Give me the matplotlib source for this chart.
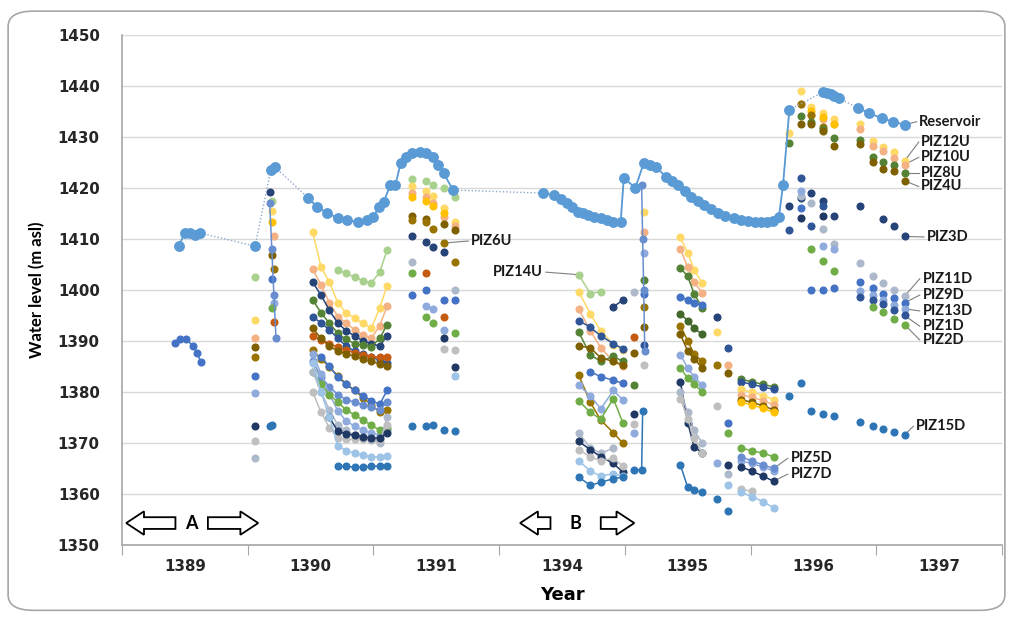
import numpy as np
import matplotlib.pyplot as plt
from matplotlib.patches import FancyArrow, FancyBboxPatch

plt.rcParams['font.family'] = ['Lato', 'DejaVu Sans']

# time axis: months counted from the left edge, 12 per year category
year_labels = ['1389', '1390', '1391', '1394', '1395', '1396', '1397']

# reservoir level
res_t = [5.4, 6.0, 6.5, 7.0, 7.4, 12.7, 14.2, 14.6,
         17.8, 18.6, 19.6, 20.6, 21.5, 22.5, 23.4, 24.0, 24.5, 25.0, 25.6, 26.1, 26.6, 27.1, 27.7,
         28.4, 29.0, 29.7, 30.2, 30.7, 31.6,
         40.2, 41.2, 41.9, 42.5, 43.0, 43.5, 44.0, 44.5, 45.1, 45.7, 46.3, 46.9, 47.6, 47.9,
         49.0, 49.8, 50.4, 51.0, 51.9, 52.5, 53.1, 53.7, 54.3, 55.0, 55.6, 56.2, 56.9, 57.6,
         58.4, 59.1, 59.8, 60.4, 61.0, 61.6, 62.1, 62.7, 63.1, 63.7,
         66.9, 67.3, 67.7, 68.0, 68.4, 70.3, 71.3, 72.5, 73.6, 74.7]
res_y = [1408.6, 1411.2, 1411.2, 1410.8, 1411.2, 1408.6, 1423.5, 1424.1,
         1418.0, 1416.3, 1415.1, 1414.1, 1413.7, 1413.3, 1413.7, 1414.3, 1416.3, 1417.3, 1420.6, 1420.6, 1424.9, 1426.1, 1426.9,
         1427.0, 1426.9, 1426.1, 1424.5, 1422.9, 1419.6,
         1419.0, 1418.6, 1417.8, 1417.1, 1416.2, 1415.3, 1415.0, 1414.7, 1414.4, 1414.1, 1413.7, 1413.3, 1413.3, 1422.0,
         1420.0, 1424.9, 1424.6, 1424.1, 1422.2, 1421.4, 1420.6, 1419.4, 1418.2, 1417.4, 1416.7, 1415.8, 1415.1, 1414.6,
         1414.1, 1413.8, 1413.5, 1413.4, 1413.3, 1413.4, 1413.5, 1414.3, 1420.6, 1435.3,
         1438.8, 1438.6, 1438.4, 1438.0, 1437.6, 1435.7, 1434.7, 1433.7, 1433.0, 1432.4]

# piezometer campaigns: times and readings (None = no reading)
t_89a = [5.1, 5.5, 6.1, 6.8, 7.2, 7.5]
y_89a = {'PIZ9D': [1389.6, 1390.4, 1390.4, 1389.0, 1387.6, 1385.9]}

t_89b = [12.7]
y_89b = {'PIZ14U': [1402.5], 'PIZ12U': [1394.2], 'PIZ10U': [1390.5], 'PIZ4U': [1388.9],
         'PIZ6U': [1386.9], 'PIZ9D': [1383.2], 'PIZ13D': [1379.9], 'PIZ7D': [1373.3],
         'PIZ4D': [1370.3], 'PIZ11D': [1367.0]}

t_89c = [14.1, 14.3, 14.5, 14.7]
y_89c = {'PIZ3D': [1419.3, None, None, None], 'PIZ14U': [None, 1417.5, None, None],
         'PIZ12U': [None, 1415.4, None, None], 'PIZ10D': [None, 1413.4, None, None],
         'PIZ10U': [None, None, 1410.5, None], 'PIZ4U': [None, 1406.8, None, None],
         'PIZ6U': [None, None, 1404.1, None], 'PIZ9D': [None, 1402.1, None, None],
         'PIZ13D': [None, None, 1397.5, None], 'PIZ2D': [None, 1396.5, None, None],
         'PIZ2U': [None, None, 1393.8, None], 'PIZ5D': [1417.0, 1408.0, 1399.0, 1390.5],
         'PIZ15D': [1373.3, 1373.6, None, None]}

t_90 = [18.2, 19.0, 19.8, 20.6, 21.4, 22.2, 23.0, 23.8, 24.6, 25.3]
y_90 = {
    'PIZ12U': [1411.4, 1404.5, 1401.5, 1397.5, 1395.5, 1394.5, 1393.5, 1392.5, 1396.5, 1400.8],
    'PIZ14U': [None, None, None, 1403.9, 1403.3, 1402.5, 1401.8, 1401.4, 1403.5, 1407.8],
    'PIZ10U': [1404.1, 1401.0, 1397.5, 1394.8, 1393.5, 1392.2, 1391.2, 1390.5, 1393.0, 1396.8],
    'PIZ3D': [1401.5, 1399.0, 1396.0, 1393.5, 1392.0, 1391.0, 1390.0, 1389.5, 1389.0, 1391.0],
    'PIZ8U': [1398.1, 1395.5, 1393.5, 1391.5, 1390.3, 1389.5, 1389.2, 1388.9, 1390.5, 1393.2],
    'PIZ1D': [1394.8, 1393.5, 1392.2, 1390.5, 1389.0, 1388.0, 1387.4, 1386.9, 1386.2, 1385.6],
    'PIZ2U': [1390.9, 1390.2, 1389.5, 1388.8, 1388.2, 1387.7, 1387.3, 1386.9, 1386.9, 1386.9],
    'PIZ4U': [1392.5, 1390.5, 1389.0, 1388.0, 1387.5, 1387.0, 1386.5, 1386.0, 1385.5, 1385.0],
    'PIZ6U': [1388.2, 1386.5, 1384.9, 1383.2, 1381.6, 1380.3, 1378.9, 1377.5, 1376.0, 1376.5],
    'PIZ9D': [None, 1386.9, 1385.0, 1382.9, 1381.5, 1380.3, 1379.3, 1378.3, 1377.6, 1380.3],
    'PIZ5D': [1386.0, 1383.0, 1381.0, 1379.5, 1378.5, 1378.0, 1377.5, 1377.0, 1376.5, 1378.0],
    'PIZ13D': [1387.5, 1383.6, 1379.6, 1376.3, 1374.3, 1373.3, 1372.5, 1372.0, 1371.5, 1372.5],
    'PIZ2D': [1384.0, 1381.5, 1379.5, 1378.0, 1376.5, 1375.5, 1374.5, 1373.5, 1372.5, 1373.0],
    'PIZ11D': [1384.0, 1380.0, 1376.5, 1373.5, 1372.5, 1371.5, 1371.0, 1370.5, 1370.0, 1375.0],
    'PIZ4D': [1380.0, 1376.0, 1373.0, 1371.0, 1370.7, 1370.7, 1370.7, 1370.7, 1370.5, 1373.5],
    'PIZ7D': [None, None, 1375.0, 1372.3, 1371.8, 1371.5, 1371.2, 1371.0, 1371.0, 1372.0],
    'PIZ6D': [1385.6, 1380.0, 1375.0, 1369.5, 1368.5, 1368.0, 1367.6, 1367.3, 1367.3, 1367.5],
    'PIZ15D': [None, None, None, 1365.4, 1365.4, 1365.3, 1365.3, 1365.4, 1365.5, 1365.5],
}

t_91 = [27.7, 29.0, 29.7, 30.7, 31.8]
y_91 = {
    'PIZ14U': [1421.7, 1421.3, 1420.5, 1420.0, 1418.3],
    'PIZ12U': [1420.3, 1419.5, 1418.5, 1416.0, 1413.4],
    'PIZ10U': [1419.0, 1418.3, 1417.0, 1414.4, 1412.5],
    'PIZ10D': [1418.3, 1417.5, 1416.5, 1415.0, None],
    'PIZ4U': [1414.5, 1414.0, None, 1413.0, 1411.7],
    'PIZ6U': [1413.7, 1413.4, 1412.0, 1409.2, 1405.4],
    'PIZ3D': [1410.5, 1409.5, 1408.5, 1407.5, None],
    'PIZ11D': [1405.4, None, None, None, 1400.0],
    'PIZ2U': [None, 1403.4, None, 1394.8, None],
    'PIZ2D': [1403.4, 1394.8, 1393.5, None, 1391.5],
    'PIZ9D': [1399.1, 1400.0, None, 1398.1, 1398.1],
    'PIZ13D': [None, 1396.8, 1396.2, 1392.2, None],
    'PIZ7D': [None, None, None, 1390.5, 1384.9],
    'PIZ4D': [None, None, None, 1388.5, 1388.2],
    'PIZ6D': [None, None, None, None, 1383.2],
    'PIZ15D': [1373.3, 1373.3, 1373.5, 1372.6, 1372.3],
}

t_94 = [43.6, 44.7, 45.7, 46.9, 47.8]
y_94 = {
    'PIZ14U': [1403.0, 1399.3, 1399.7, None, None],
    'PIZ12U': [1399.7, 1395.3, 1392.0, 1389.3, 1388.3],
    'PIZ10U': [1396.3, 1392.0, 1388.7, 1386.0, 1385.0],
    'PIZ1D': [1394.0, 1392.7, 1391.0, 1389.5, 1388.5],
    'PIZ8U': [1391.7, 1387.3, 1386.0, 1387.0, 1386.0],
    'PIZ4U': [1389.0, 1388.7, 1386.7, 1386.0, 1385.3],
    'PIZ9D': [None, 1384.0, 1383.0, 1382.3, 1381.7],
    'PIZ6U': [1383.3, 1378.0, 1374.5, 1372.0, 1370.0],
    'PIZ13D': [1381.3, 1379.3, 1376.7, 1380.3, 1378.5],
    'PIZ2D': [1378.3, 1376.0, 1374.7, 1378.7, 1374.0],
    'PIZ11D': [1372.0, 1369.0, 1368.0, 1369.0, None],
    'PIZ7D': [1370.3, 1368.7, 1367.3, 1366.0, 1364.3],
    'PIZ4D': [1368.7, 1367.3, 1366.5, 1367.0, 1365.5],
    'PIZ6D': [1366.5, 1364.5, 1363.5, 1364.0, 1363.5],
    'PIZ15D': [1363.3, 1361.7, 1362.3, 1363.0, 1363.3],
    'PIZ3D': [None, None, None, 1396.7, 1398.0],
}

t_94c = [48.9, 49.6, 49.7, 49.8, 49.9]
y_94c = {
    'PIZ11D': [1399.7, None, None, None, None],
    'PIZ2U': [1390.7, None, None, None, None],
    'PIZ4U': [1387.7, None, None, 1392.7, None],
    'PIZ8U': [1381.3, None, None, 1402.0, None],
    'PIZ7D': [1375.7, None, None, None, None],
    'PIZ4D': [1373.7, None, None, 1385.3, None],
    'PIZ13D': [1372.0, None, None, 1407.3, None],
    'PIZ12U': [None, None, None, 1415.3, None],
    'PIZ10U': [None, None, None, 1411.3, None],
    'PIZ9D': [None, None, None, 1399.3, None],
    'PIZ6U': [None, None, None, 1396.7, None],
    'PIZ1D': [None, None, None, 1389.3, None],
    'PIZ5D': [None, 1420.5, 1410.0, 1400.0, 1388.0],
    'PIZ15D': [1364.7, 1364.7, 1376.3, None, None],
}

t_95 = [53.3, 54.0, 54.6, 55.4]
y_95 = {
    'PIZ12U': [1410.3, 1407.3, 1404.0, 1401.3],
    'PIZ10U': [1408.0, 1404.5, 1401.5, 1399.5],
    'PIZ8U': [1404.3, 1402.7, 1399.3, 1396.5],
    'PIZ9D': [1398.7, 1398.0, 1397.5, 1397.0],
    'PIZ5U': [1395.3, 1394.0, 1392.5, 1391.3],
    'PIZ6U': [1393.0, 1390.0, 1387.5, 1386.0],
    'PIZ4U': [1391.3, 1388.0, 1386.5, 1384.7],
    'PIZ13D': [1387.3, 1384.7, 1383.0, 1381.3],
    'PIZ2D': [1384.7, 1382.7, 1381.5, 1380.0],
    'PIZ7D': [1382.0, 1374.0, 1369.3, 1368.0],
    'PIZ11D': [1380.0, 1376.0, 1372.5, 1370.0],
    'PIZ4D': [1378.7, 1374.7, 1371.0, 1368.0],
    'PIZ15D': [1365.7, 1361.3, 1360.7, 1360.3],
}

t_95s = [56.8, 57.8]
y_95s = {
    'PIZ3D': [1394.7, None], 'PIZ12U': [1391.7, None], 'PIZ1D': [None, 1388.7],
    'PIZ6U': [1385.3, None], 'PIZ10U': [None, 1385.3], 'PIZ4U': [None, 1383.7],
    'PIZ4D': [1377.3, None], 'PIZ9D': [None, 1374.0], 'PIZ2D': [None, 1372.0],
    'PIZ13D': [1366.0, None], 'PIZ7D': [None, 1365.7], 'PIZ11D': [None, 1364.0],
    'PIZ6D': [None, 1361.7], 'PIZ15D': [1359.0, 1356.7],
}

t_95c = [59.1, 60.1, 61.2, 62.2]
y_95c = {
    'PIZ8U': [1382.5, 1382.0, 1381.5, 1381.0],
    'PIZ1D': [1382.0, 1381.5, 1381.0, 1380.5],
    'PIZ12U': [1380.5, 1380.0, 1379.3, 1378.5],
    'PIZ10U': [1379.5, 1379.0, 1378.3, 1377.5],
    'PIZ4U': [1378.5, 1378.0, 1377.3, 1376.5],
    'PIZ10D': [1378.0, 1377.5, 1376.8, 1376.0],
    'PIZ2D': [1369.0, 1368.5, 1368.0, 1367.3],
    'PIZ13D': [1366.5, 1366.0, 1365.3, 1364.5],
    'PIZ5D': [1367.3, 1366.5, 1365.7, 1365.0],
    'PIZ7D': [1365.3, 1364.5, 1363.5, 1362.5],
    'PIZ4D': [1361.0, 1360.5, None, None],
    'PIZ6D': [1360.3, 1359.5, 1358.5, 1357.3],
}

t_96a = [63.7, 64.8, 65.8, 66.9, 68.0]
y_96a = {
    'PIZ12U': [1430.8, 1439.0, 1435.8, 1434.8, 1433.5],
    'PIZ10U': [None, 1436.5, 1434.4, 1433.5, 1432.5],
    'PIZ10D': [None, None, 1435.0, 1434.0, 1432.5],
    'PIZ6U': [None, 1436.4, 1434.4, 1432.0, None],
    'PIZ8U': [1428.9, 1434.1, 1433.0, 1431.5, 1429.9],
    'PIZ4U': [None, 1432.5, 1432.5, 1431.2, 1428.2],
    'PIZ3D': [1416.5, 1418.0, 1419.1, 1417.5, 1414.5],
    'PIZ1D': [1411.8, 1422.0, 1412.5, 1416.5, None],
    'PIZ11D': [None, 1418.4, 1417.1, 1411.9, 1409.0],
    'PIZ13D': [None, 1419.4, None, 1408.6, 1408.0],
    'PIZ2D': [None, None, 1408.0, 1405.7, 1403.7],
    'PIZ9D': [None, 1416.1, 1400.0, 1400.0, 1400.3],
    'PIZ7D': [None, 1414.2, None, 1414.5, None],
    'PIZ15D': [1379.2, 1381.8, 1376.3, 1375.6, 1375.3],
}

t_96b = [70.4, 71.7, 72.6, 73.7, 74.7]
y_96b = {
    'PIZ12U': [1432.5, 1429.2, 1428.0, 1427.0, 1425.3],
    'PIZ10U': [1431.5, 1428.3, 1427.3, 1425.8, 1424.6],
    'PIZ8U': [1429.5, 1426.0, 1425.0, 1424.6, 1423.0],
    'PIZ4U': [1428.6, 1425.0, 1423.7, 1423.3, 1421.4],
    'PIZ3D': [1416.5, None, 1414.0, 1412.5, 1410.5],
    'PIZ11D': [1405.3, 1402.7, 1401.3, 1400.0, 1398.8],
    'PIZ9D': [1401.5, 1400.3, 1399.3, 1398.5, 1397.5],
    'PIZ13D': [1399.8, 1399.0, 1398.0, 1397.0, 1396.3],
    'PIZ1D': [1398.7, 1398.0, 1397.3, 1396.0, 1395.0],
    'PIZ2D': [None, 1396.7, 1395.7, 1394.3, 1393.2],
    'PIZ15D': [1374.1, 1373.3, 1372.7, 1372.2, 1371.6],
}

colors = {
    'PIZ12U': '#FFD966', 'PIZ10U': '#F4B183', 'PIZ10D': '#FFC000', 'PIZ8U': '#548235',
    'PIZ5U': '#43682B', 'PIZ4U': '#7F6000', 'PIZ6U': '#997300', 'PIZ2U': '#C55A11',
    'PIZ14U': '#A9D18E', 'PIZ3D': '#264478', 'PIZ11D': '#ADB9CA', 'PIZ9D': '#4472C4',
    'PIZ13D': '#8FAADC', 'PIZ1D': '#2F5597', 'PIZ2D': '#70AD47', 'PIZ15D': '#2E75B6',
    'PIZ5D': '#698ED0', 'PIZ7D': '#203864', 'PIZ6D': '#9DC3E6', 'PIZ4D': '#BFBFBF',
}

# (times, readings, connect with lines?)
campaigns = [(t_89a, y_89a, True), (t_89b, y_89b, False), (t_89c, y_89c, True),
             (t_90, y_90, True), (t_91, y_91, False), (t_94, y_94, True),
             (t_94c, y_94c, True), (t_95, y_95, True), (t_95s, y_95s, False),
             (t_95c, y_95c, True), (t_96a, y_96a, False), (t_96b, y_96b, False)]

fig = plt.figure(figsize=(10.13, 6.19), dpi=100)
fig.patches.append(FancyBboxPatch((0.008, 0.014), 0.984, 0.968,
                                  boxstyle='round,pad=0,rounding_size=0.025',
                                  transform=fig.transFigure, fill=False,
                                  ec='#A6A6A6', lw=1.2))
ax = fig.add_axes([122 / 1013, 1 - 545 / 619, 880 / 1013, 510 / 619])

for ts, table, lined in campaigns:
    for name, vals in table.items():
        y = np.array([np.nan if v is None else v for v in vals], dtype=float)
        ax.plot(ts, y, ls='-' if lined else 'none', lw=1.1, marker='o', ms=4.8,
                color=colors[name], zorder=3)

# reservoir: dotted across gaps, solid within a survey
rt = np.array(res_t)
ry = np.array(res_y)
ax.plot(rt, ry, ls=(0, (1, 1.5)), color='#8EA9CC', lw=1.0, zorder=4)
breaks = np.where(np.diff(rt) >= 1.5)[0] + 1
for seg_t, seg_y in zip(np.split(rt, breaks), np.split(ry, breaks)):
    ax.plot(seg_t, seg_y, '-', color='#5B9BD5', lw=1.3, marker='o', ms=6.8, zorder=5)

# series labels with leader lines
def label(text, x0, y0, tx, ty, ha='left'):
    gap = -0.25 if ha == 'left' else 0.25
    ax.plot([x0, tx + gap], [y0, ty], color='#7F7F7F', lw=0.8, zorder=2)
    ax.text(tx, ty, text, ha=ha, va='center', fontsize=10.5, fontweight='bold', color='#1A1A1A')

label('Reservoir', res_t[-1], res_y[-1], 76.1, 1433.0)
label('PIZ12U', t_96b[-1], y_96b['PIZ12U'][-1], 76.3, 1429.0)
label('PIZ10U', t_96b[-1], y_96b['PIZ10U'][-1], 76.3, 1426.0)
label('PIZ8U', t_96b[-1], y_96b['PIZ8U'][-1], 76.3, 1423.0)
label('PIZ4U', t_96b[-1], y_96b['PIZ4U'][-1], 76.3, 1420.3)
label('PIZ3D', t_96b[-1], y_96b['PIZ3D'][-1], 76.8, 1410.4)
label('PIZ11D', t_96b[-1], y_96b['PIZ11D'][-1], 76.4, 1402.2)
label('PIZ9D', t_96b[-1], y_96b['PIZ9D'][-1], 76.4, 1399.0)
label('PIZ13D', t_96b[-1], y_96b['PIZ13D'][-1], 76.4, 1395.9)
label('PIZ1D', t_96b[-1], y_96b['PIZ1D'][-1], 76.4, 1392.9)
label('PIZ2D', t_96b[-1], y_96b['PIZ2D'][-1], 76.4, 1390.2)
label('PIZ15D', t_96b[-1], y_96b['PIZ15D'][-1], 75.8, 1373.3)
label('PIZ5D', t_95c[-1], y_95c['PIZ5D'][-1], 63.8, 1367.0)
label('PIZ7D', t_95c[-1], y_95c['PIZ7D'][-1], 63.8, 1363.9)
label('PIZ6U', t_91[3], y_91['PIZ6U'][3], 33.3, 1409.6)
label('PIZ14U', t_94[0], y_94['PIZ14U'][0], 40.2, 1403.5, ha='right')

# period arrows A and B
arrow_kw = dict(width=2.3, head_width=4.6, head_length=1.7, length_includes_head=True,
                fc='white', ec='black', lw=1.3, zorder=6)
ax.add_patch(FancyArrow(5.1, 1354.3, -4.7, 0, **arrow_kw))
ax.add_patch(FancyArrow(8.2, 1354.3, 4.8, 0, **arrow_kw))
ax.text(6.6, 1354.3, 'A', ha='center', va='center', fontsize=13, fontweight='bold')
ax.add_patch(FancyArrow(40.9, 1354.3, -2.9, 0, **arrow_kw))
ax.add_patch(FancyArrow(45.7, 1354.3, 3.2, 0, **arrow_kw))
ax.text(43.3, 1354.3, 'B', ha='center', va='center', fontsize=13, fontweight='bold')

ax.set_xlim(0, 84)
ax.set_ylim(1350, 1450)
ax.set_yticks(np.arange(1350, 1451, 10))
ax.grid(axis='y', color='#D9D9D9', lw=1)
ax.set_axisbelow(True)
ax.set_xticks(np.arange(0, 85, 12))
ax.set_xticklabels([])
ax.set_xticks(np.arange(6, 84, 12), minor=True)
ax.set_xticklabels(year_labels, minor=True)
ax.tick_params(axis='x', which='major', length=7, color='#A6A6A6', direction='out')
ax.tick_params(axis='x', which='minor', length=0, pad=10)
ax.tick_params(axis='y', length=0, pad=16)
for lab in ax.get_xticklabels(minor=True) + ax.get_yticklabels():
    lab.set_fontweight('bold')
    lab.set_color('#262626')
    lab.set_family('DejaVu Sans')
    lab.set_fontsize(10.8)
for side in ['top', 'right']:
    ax.spines[side].set_visible(False)
for side in ['left', 'bottom']:
    ax.spines[side].set_color('#A6A6A6')
    ax.spines[side].set_linewidth(1.2)

ax.set_xlabel('Year', fontsize=13, fontweight='bold', labelpad=9, family='DejaVu Sans')
ax.set_ylabel('Water level (m asl)', fontsize=12, fontweight='bold', labelpad=9)

fig.savefig('out.png', dpi=100)
